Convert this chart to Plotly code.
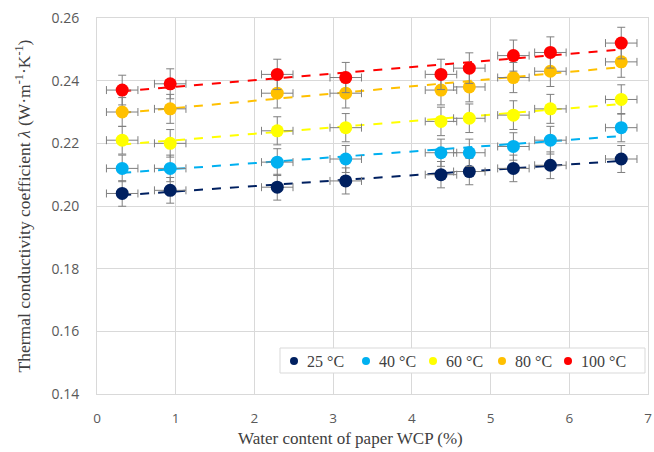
import numpy as np
import plotly.graph_objects as go

wcp = [0.32, 0.93, 2.29, 3.16, 4.37, 4.73, 5.29, 5.76, 6.66]
lam_25 = [0.204, 0.205, 0.206, 0.208, 0.210, 0.211, 0.212, 0.213, 0.215]
lam_40 = [0.212, 0.212, 0.214, 0.215, 0.217, 0.217, 0.219, 0.221, 0.225]
lam_60 = [0.221, 0.220, 0.224, 0.225, 0.227, 0.228, 0.229, 0.231, 0.234]
lam_80 = [0.230, 0.231, 0.236, 0.236, 0.237, 0.238, 0.241, 0.243, 0.246]
lam_100 = [0.237, 0.239, 0.242, 0.241, 0.242, 0.244, 0.248, 0.249, 0.252]
series_names = ["25 °C", "40 °C", "60 °C", "80 °C", "100 °C"]
series_colors = ["#002060", "#00B0F0", "#FFFF00", "#FFC000", "#FF0000"]
x_err = 0.2          # absolute error of WCP (%)
y_err_percent = 2    # relative error of lambda (%)

series = [lam_25, lam_40, lam_60, lam_80, lam_100]

fig = go.Figure()
serif = "Liberation Serif"
sans = "Open Sans"

# trendlines
for name, col, ys in zip(series_names, series_colors, series):
    k, b = np.polyfit(wcp, ys, 1)
    xs = [min(wcp), max(wcp)]
    fig.add_trace(go.Scatter(x=xs, y=[k * v + b for v in xs], mode="lines",
                             line=dict(color=col, width=2, dash="dash"),
                             showlegend=False, hoverinfo="skip"))

# data with error bars
for name, col, ys in zip(series_names, series_colors, series):
    fig.add_trace(go.Scatter(
        x=wcp, y=ys, mode="markers", name=name, showlegend=False,
        marker=dict(color=col, size=13),
        error_x=dict(type="constant", value=x_err, color="#7f7f7f", thickness=1, width=4),
        error_y=dict(type="percent", value=y_err_percent, color="#7f7f7f", thickness=1, width=4),
    ))

# plot area in page pixels
PL, PR, PT, PB = 97, 648, 18, 394


def px(x):
    return (x - PL) / (PR - PL)


def py(y):
    return (PB - y) / (PB - PT)


# legend drawn by hand (box, dots, labels)
shapes = [dict(type="rect", xref="paper", yref="paper",
               x0=px(280), x1=px(645), y0=py(373), y1=py(348),
               line=dict(color="#d9d9d9", width=1), fillcolor="white", layer="above")]
annotations = []
dot_x = [294, 366, 433, 502, 568]
for name, col, dx in zip(series_names, series_colors, dot_x):
    shapes.append(dict(type="circle", xref="paper", yref="paper",
                       xsizemode="pixel", ysizemode="pixel",
                       xanchor=px(dx), yanchor=py(361),
                       x0=-4, x1=4, y0=-4, y1=4,
                       fillcolor=col, line=dict(width=0), layer="above"))
    annotations.append(dict(text=name, xref="paper", yref="paper",
                            x=px(dx + 11), y=py(361), xanchor="left", yanchor="middle",
                            showarrow=False,
                            font=dict(family=serif, size=16, color="#404040")))

# x axis title (centred like the reference, slightly left of plot centre)
annotations.append(dict(text="Water content of paper WCP (%)", xref="paper", yref="paper",
                        x=px(350), y=py(438), xanchor="center", yanchor="middle",
                        showarrow=False,
                        font=dict(family=serif, size=17, color="#404040")))

fig.update_layout(
    width=654, height=452,
    margin=dict(l=PL, r=654 - PR, t=PT, b=452 - PB, autoexpand=False),
    paper_bgcolor="white", plot_bgcolor="white",
    showlegend=False,
    shapes=shapes, annotations=annotations,
    xaxis=dict(range=[0, 7], dtick=1, showgrid=True, gridcolor="#d9d9d9",
               showline=True, linecolor="#d9d9d9", mirror=True, zeroline=False,
               ticks="", ticklabelstandoff=12, ticklabeloverflow="allow",
               tickfont=dict(family=sans, size=13.5, color="#595959")),
    yaxis=dict(range=[0.14, 0.26], dtick=0.02, tickformat=".2f", showgrid=True,
               gridcolor="#d9d9d9", showline=True, linecolor="#d9d9d9", mirror=True,
               zeroline=False, ticks="", ticklabelstandoff=14, ticklabeloverflow="allow",
               tickfont=dict(family=sans, size=14, color="#595959"),
               title=dict(text="Thermal conductivity coefficient <i>λ</i> (W·m<sup>-1</sup>·K<sup>-1</sup>)",
                          font=dict(family=serif, size=17.5, color="#404040"), standoff=16)),
)

fig.write_html("out.html", config={"displayModeBar": False},
               post_script="document.body.style.margin='0';")
